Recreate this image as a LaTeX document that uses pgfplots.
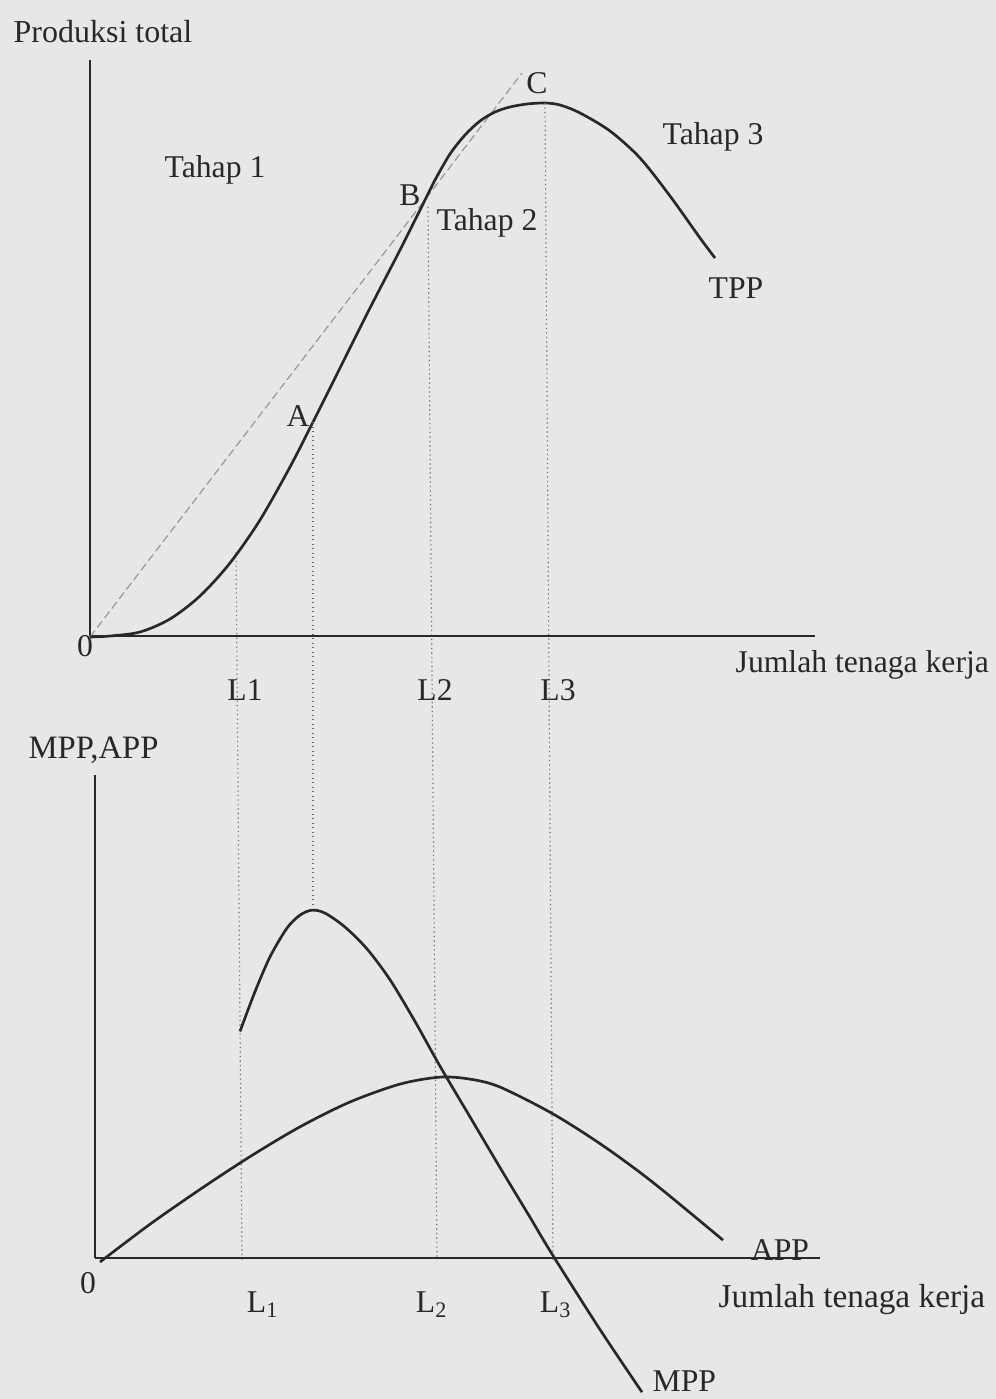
\documentclass[border=0pt]{standalone}
\usepackage{fontspec}
\setmainfont{Liberation Serif}
\usepackage{pgfplots}
\pgfplotsset{compat=1.18}

\definecolor{paper}{RGB}{231,231,233}
\definecolor{ink}{RGB}{40,40,40}
\definecolor{guidegray}{RGB}{105,105,105}

% one data unit = one pixel of the scan = 0.3pt
\pgfplotsset{
  econ/.style={
    scale only axis, axis lines=left,
    axis line style={-, ink, line width=0.6pt},
    xtick=\empty, ytick=\empty,
    xmin=0, xmax=725, ymin=0,
    clip=false, anchor=south west,
  },
  curve/.style={ink, line width=0.8pt, smooth, no marks},
  guideline/.style={guidegray, line width=0.35pt, densely dotted, no marks},
}

\begin{document}
\fontsize{9.5}{11}\selectfont
\begin{tikzpicture}
\fill[paper] (0,0) rectangle (298.8pt,-419.7pt);
\useasboundingbox (0,0) rectangle (298.8pt,-419.7pt);

% top panel: total physical product
\begin{axis}[econ, at={(27pt,-190.8pt)}, width=217.5pt, height=172.8pt, ymax=576]
% tangent ray from the origin through B
\addplot[guidegray!70, line width=0.35pt, dash pattern=on 2.4pt off 1.2pt, no marks]
  coordinates {(0,-1) (432,563)};
% TPP
\addplot[curve] coordinates {
  (0,-1) (20,0) (50,4) (80,17) (110,40) (140,73) (170,116) (200,169)
  (223,214) (250,268) (280,328) (310,386) (335,436) (345,456) (360,482)
  (375,501) (390,515) (405,524) (420,529) (437,532) (455,533) (470,531)
  (490,523) (520,505) (550,478) (580,440) (610,398) (625,378)
};
% dotted guides down to the lower panel
\addplot[guideline] coordinates {(146,84) (152,-624)};
\addplot[guideline] coordinates {(223,214) (223,-270)};
\addplot[guideline] coordinates {(338,429) (347,-624)};
\addplot[guideline] coordinates {(455,533) (463,-624)};

\node[anchor=west, inner sep=0pt, ink] at (axis cs:-77,604) {\fontsize{9.6}{11}\selectfont Produksi total};
\node[ink] at (axis cs:125,466) {Tahap 1};
\node[ink] at (axis cs:208,220) {A};
\node[ink] at (axis cs:320,441) {B};
\node[ink] at (axis cs:397,413) {Tahap 2};
\node[ink] at (axis cs:447,553) {C};
\node[ink] at (axis cs:623,499) {Tahap 3};
\node[ink] at (axis cs:646,348) {TPP};
\node[ink] at (axis cs:-5,-10) {0};
\node[anchor=west, inner sep=0pt, ink] at (axis cs:645,-29) {Jumlah tenaga kerja};
\node[ink] at (axis cs:155,-54) {L1};
\node[ink] at (axis cs:345,-54) {L2};
\node[ink] at (axis cs:468,-54) {L3};
\end{axis}

% bottom panel: marginal and average physical product
\begin{axis}[econ, at={(28.5pt,-377.4pt)}, width=217.5pt, height=144.9pt, ymax=486]
% MPP
\addplot[curve] coordinates {
  (145,228) (160,268) (175,303) (192,332) (205,345) (217,350) (230,347)
  (250,333) (272,311) (295,280) (320,238) (345,193) (375,142) (405,91)
  (435,41) (457,4) (505,-72) (547,-135)
};
% APP
\addplot[curve] coordinates {
  (5,-4) (55,34) (105,69) (155,102) (205,132) (255,157) (305,175)
  (345,182) (375,180) (405,172) (458,145) (508,113) (558,76) (628,18)
};

\node[anchor=west, inner sep=0pt, ink] at (axis cs:-67,511) {\fontsize{9.8}{11}\selectfont MPP,APP};
\node[ink] at (axis cs:-7,-25) {0};
\node[ink] at (axis cs:168,-47) {L\textsubscript{1}};
\node[ink] at (axis cs:337,-47) {L\textsubscript{2}};
\node[ink] at (axis cs:461,-47) {L\textsubscript{3}};
\node[anchor=west, inner sep=0pt, ink] at (axis cs:623,-42) {\fontsize{10}{12}\selectfont Jumlah tenaga kerja};
\node[ink] at (axis cs:685,8) {APP};
\node[anchor=west, inner sep=0pt, ink] at (axis cs:557,-124) {MPP};
\end{axis}
\end{tikzpicture}
\end{document}
